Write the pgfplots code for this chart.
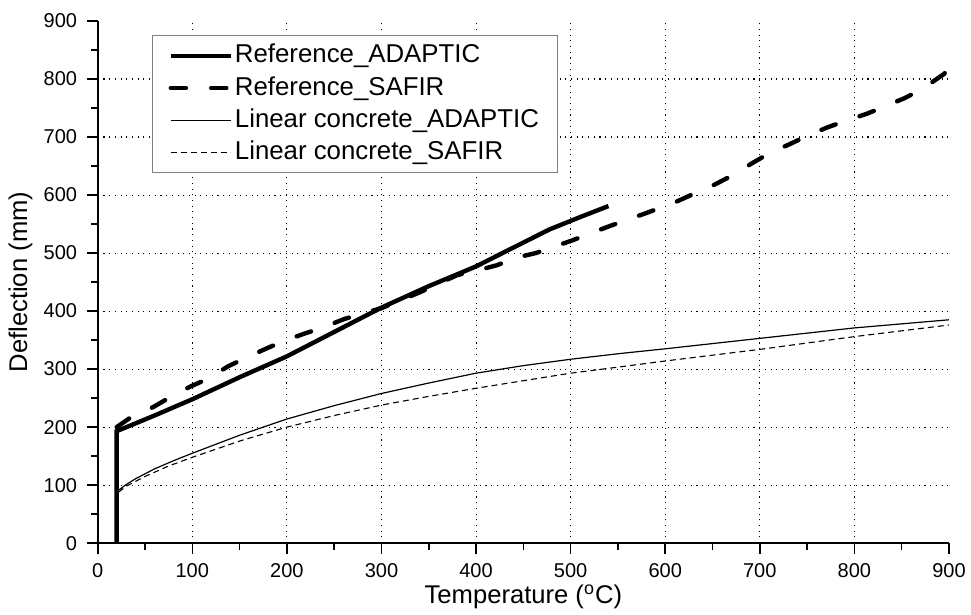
\documentclass[border=0pt]{standalone}
\usepackage{fontspec}
\setmainfont{Liberation Sans}
\usepackage{pgfplots}
\pgfplotsset{compat=1.18}
\begin{document}
\begin{tikzpicture}
\path[use as bounding box] (-48.85pt,-35.5pt) rectangle (436.5pt,271.5pt);
\begin{axis}[
  scale only axis, width=425.5pt, height=261pt,
  xmin=0, xmax=900, ymin=0, ymax=900,
  axis lines*=left,
  axis line style={-, line width=1pt},
  xtick={0,100,...,900}, ytick={0,100,...,900},
  minor tick num=1,
  tick align=outside,
  major tick length=5.3pt, minor tick length=3.3pt,
  tick style={line width=0.8pt, black},
  extra x ticks={100,200,...,800},
  extra y ticks={100,200,...,800},
  extra x tick labels={}, extra y tick labels={},
  extra tick style={grid=major, major tick length=0pt, minor tick num=0},
  major grid style={black, line width=0.55pt, dash pattern=on 0.55pt off 2.3pt},
  ticklabel style={font=\fontsize{10}{12}\selectfont},
  /pgf/number format/assume math mode=true,
  xticklabel style={yshift=-1.2pt},
  yticklabel style={xshift=-1.5pt},
  xlabel={Temperature (\textsuperscript{o}C)},
  ylabel={Deflection (mm)},
  xlabel style={at={(axis description cs:0.5,-0.115)}, anchor=base, font=\fontsize{12.8}{15}\selectfont},
  ylabel style={at={(axis description cs:-0.083,0.5)}, anchor=base, font=\fontsize{12.8}{15}\selectfont},
  legend style={at={(axis description cs:0.0638,0.973)}, anchor=north west,
    draw=gray, line width=0.5pt, fill=white,
    font=\fontsize{12.9}{15}\selectfont,
    inner xsep=8pt, inner ysep=3.1pt, row sep=2.1pt,
    nodes={inner sep=1pt, text height=9.5pt, text depth=2.5pt}},
  legend cell align=left,
  legend image code/.code={\draw[#1] (0pt,0pt) -- (30pt,0pt);},
]
\addplot[black, line width=2.2pt] coordinates {
(20,0) (20,193) (60,220) (100,248) (150,286) (200,322) (250,364) (300,406)
(350,443) (400,477) (440,510) (478,541) (510,562) (540,581)};
\addlegendentry{Reference\_ADAPTIC}
\addplot[black, line width=2.2pt, line cap=round, dash pattern=on 7.6pt off 12.6pt] coordinates {
(20,200) (36,218) (58,234) (75,250) (98,270) (116,283) (138,305) (156,319)
(179,336) (196,348) (220,362) (237,371) (260,386) (278,395) (300,405) (340,432)
(380,462) (401,470) (422,479) (440,491) (463,500) (481,510) (502,522) (521,534)
(542,547) (561,558) (580,569) (611,588) (630,602) (651,617) (670,633) (692,655)
(710,672) (732,688) (750,702) (772,717) (791,728) (813,740) (831,752) (853,767)
(872,783) (895,809) (900,820)};
\addlegendentry{Reference\_SAFIR}
\addplot[black, line width=0.6pt] coordinates {
(21,90) (30,101) (40,111) (60,128) (80,142) (100,155) (150,186) (200,214)
(250,237) (300,258) (350,276) (400,293) (450,306) (500,317) (553,327) (600,335)
(700,353) (800,371) (900,385)};
\addlegendentry{Linear concrete\_ADAPTIC}
\addplot[black, line width=0.55pt, dash pattern=on 3pt off 2pt] coordinates {
(22,88) (30,98) (50,115) (75,133) (100,148) (150,176) (200,200) (250,220)
(300,238) (350,253) (400,267) (450,280) (500,293) (553,304) (600,314)
(700,334) (800,356) (900,376)};
\addlegendentry{Linear concrete\_SAFIR}
\end{axis}
\end{tikzpicture}
\end{document}
